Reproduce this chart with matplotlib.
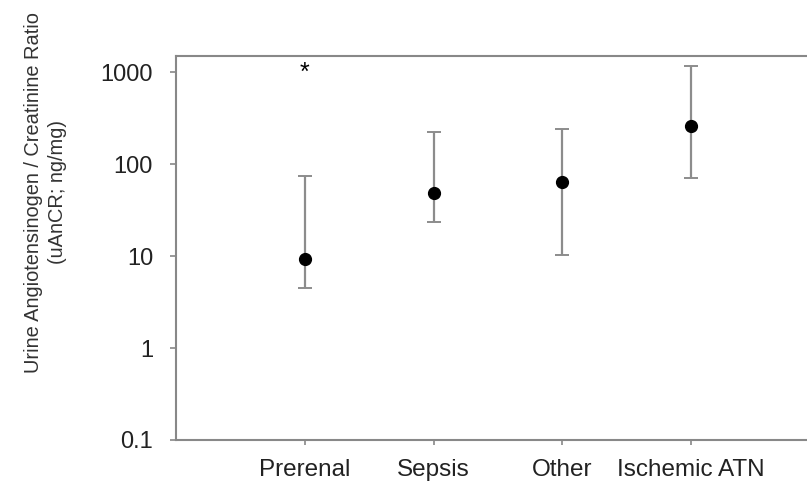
import numpy as np
import matplotlib.pyplot as plt

# groups and values (median with range)
groups = ['Prerenal', 'Sepsis', 'Other', 'Ischemic ATN']
median = [9.4, 48, 64, 257]
lower = [4.5, 23.4, 10.4, 70]
upper = [74, 222, 244, 1180]
star_group = 'Prerenal'
star_y = 980

plt.rcParams['font.family'] = ['Liberation Sans', 'DejaVu Sans']

fig = plt.figure(figsize=(8.07, 4.92), dpi=100)
ax = fig.add_axes([176 / 807, 52 / 492, 631 / 807, 384 / 492])

x = np.arange(1, len(groups) + 1)
med = np.array(median)
yerr = [med - np.array(lower), np.array(upper) - med]
ax.errorbar(x, med, yerr=yerr, fmt='none', ecolor='#8c8c8c', elinewidth=1.6,
            capsize=5, capthick=1.4, zorder=2)
ax.plot(x, med, 'o', color='black', markersize=8.5, zorder=3)

ax.text(x[groups.index(star_group)], star_y, '*', ha='center', va='center',
        fontsize=18, color='black')

ax.set_yscale('log')
ax.set_ylim(0.1, 1500)
ax.set_xlim(0, 4.9)
ax.set_yticks([0.1, 1, 10, 100, 1000])
ax.set_yticklabels(['0.1', '1', '10', '100', '1000'])
ax.yaxis.set_minor_locator(plt.NullLocator())
ax.set_xticks(x)
ax.set_xticklabels(groups)

for s in ['left', 'bottom', 'top']:
    ax.spines[s].set_color('#888888')
    ax.spines[s].set_linewidth(1.5)
ax.spines['right'].set_visible(False)

ax.tick_params(axis='y', direction='out', length=4.5, width=1.2, color='#888888',
               labelsize=17, labelcolor='#222222', pad=12)
ax.tick_params(axis='x', direction='out', length=3.5, width=1.2, color='#888888',
               labelsize=17.5, labelcolor='#222222', pad=10)

ax.set_ylabel('Urine Angiotensinogen / Creatinine Ratio\n(uAnCR; ng/mg)',
              fontsize=14.4, color='#333333', linespacing=1.35)
ax.yaxis.set_label_coords(-0.172, 0.645)

fig.savefig('out.png', dpi=100)
